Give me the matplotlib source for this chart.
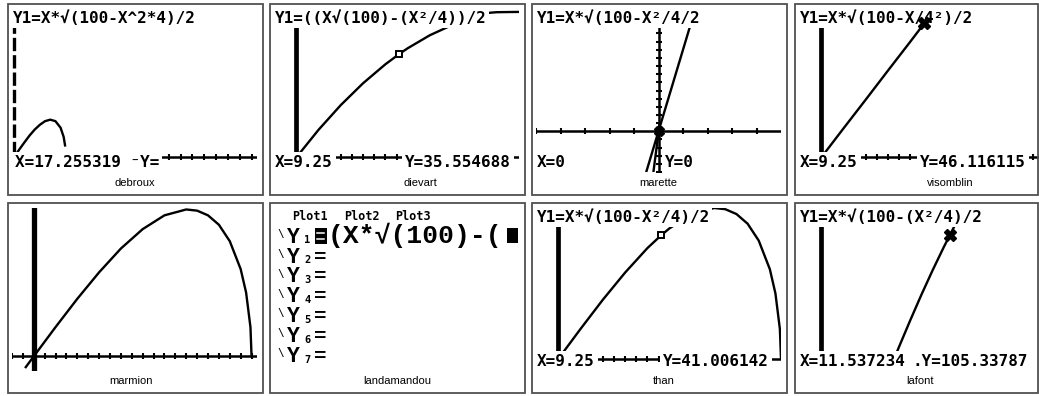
import numpy as np
import matplotlib.pyplot as plt
from matplotlib.patches import Rectangle
from matplotlib.transforms import Affine2D

# ---- values ----
names = ['debroux', 'dievart', 'marette', 'visomblin',
         'marmion', 'landamandou', 'than', 'lafont']

# debroux : Y1=X*sqrt(100-X^2*4)/2
debroux_eq = 'Y1=X*√(100-X^2*4)/2'
debroux_x = [0, 0.5, 1, 1.5, 2, 2.5, 3, 3.5, 4, 4.5, 4.8, 4.95]
debroux_y = [0, 2.5, 4.9, 7.2, 9.2, 10.8, 12.0, 12.5, 12.0, 9.8, 6.7, 3.5]
debroux_trace = ['X=17.255319 ⁻Y=']

# dievart : Y1=((X*sqrt(100)-(X^2/4))/2
dievart_eq = 'Y1=((X√(100)-(X²/4))/2'
dievart_x = [0, 2, 4, 6, 8, 9.25, 10, 12, 14, 16, 17, 18, 20]
dievart_y = [0, 9.5, 18, 25.5, 32, 35.55, 37.5, 42, 45.5, 48.5, 49.6, 49.9, 50]
dievart_cursor = (9.25, 35.554688)
dievart_trace = ['X=9.25', 'Y=35.554688']

# marette : steep line through the origin
marette_eq = 'Y1=X*√(100-X²/4/2'
marette_x = [-0.6, 0, 0.5, 1, 1.6]
marette_y = [-6, 0, 5, 10, 16]
marette_x2 = [-0.25, 0.05]
marette_y2 = [-6, 1]
marette_trace = ['X=0', 'Y=0']

# visomblin
visomblin_eq = 'Y1=X*√(100-X/4²)/2'
visomblin_x = [0, 2, 4, 6, 8, 9.25, 10.5]
visomblin_y = [0, 10.0, 19.9, 29.9, 39.8, 46.1, 52.3]
visomblin_cursor = (9.25, 46.116115)
visomblin_trace = ['X=9.25', 'Y=46.116115']

# marmion : full arch, no text on screen
marmion_x = [-0.8, 0, 2, 4, 6, 8, 10, 12, 14, 15, 16, 17, 18, 19, 19.5, 19.9, 20]
marmion_y = [-4.0, 0, 9.95, 19.6, 28.6, 36.7, 43.3, 48, 50.0, 49.6, 48, 44.8,
             39.2, 29.7, 21.7, 9.9, 0]

# landamandou : Y= editor
landamandou_plots = ['Plot1', 'Plot2', 'Plot3']
landamandou_rows = ['1', '2', '3', '4', '5', '6', '7']
landamandou_y1 = '(X*√(100)-('

# than
than_eq = 'Y1=X*√(100-X²/4)/2'
than_x = [0, 2, 4, 6, 8, 9.25, 10, 12, 14, 15, 16, 17, 18, 19, 19.5, 19.9, 20]
than_y = [0, 9.95, 19.6, 28.6, 36.7, 41.0, 43.3, 48, 50.0, 49.6, 48, 44.8,
          39.2, 29.7, 21.7, 9.9, 0]
than_cursor = (9.25, 41.006142)
than_trace = ['X=9.25', 'Y=41.006142']

# lafont
lafont_eq = 'Y1=X*√(100-(X²/4)/2'
lafont_x = [6.5, 7, 8, 9, 10, 11, 11.54, 12, 12.5]
lafont_y = [63.3, 67.8, 76.7, 85.3, 93.5, 101.3, 105.3, 108.7, 112.1]
lafont_cursor = (11.537234, 105.33787)
lafont_trace = ['X=11.537234', '.Y=105.33787']

# ---- layout ----
W, H = 1039, 396
SW, SH = 245, 163
TI = ['DejaVu Sans Mono', 'DejaVu Sans']
BIG = ['Liberation Mono', 'DejaVu Sans Mono', 'DejaVu Sans']
COLS = [8, 270, 532, 795]
ROWS = [4, 203]
PH = [191, 190]

fig = plt.figure(figsize=(W / 100, H / 100), dpi=100)
fig.patch.set_facecolor('white')


def panel(c, r, name, label_x):
    x0, y0 = COLS[c], ROWS[r]
    w = 255 if c < 3 else 243
    fig.add_artist(Rectangle((x0 / W, 1 - (y0 + PH[r]) / H), w / W, PH[r] / H,
                             transform=fig.transFigure, fill=False,
                             ec='#505050', lw=1.3))
    fig.text(label_x / W, 1 - (y0 + PH[r] - 12) / H, name, ha='center',
             va='center', fontsize=8, family='Liberation Sans')
    ax = fig.add_axes([(x0 + 4) / W, 1 - (y0 + 5 + SH) / H, SW / W, SH / H])
    ax.set_axis_off()
    return ax


def px(ax):
    # TI screen grid, 96 columns x 64 rows, row 0 on top
    return Affine2D().scale(1 / 96, -1 / 64).translate(0, 1) + ax.transAxes


def ti_text(ax, col, row, s, size=11.5, pad=0.12):
    ax.text(col, row, s, transform=px(ax), family=TI, weight='bold',
            fontsize=size, color='k', va='baseline', ha='left', zorder=5,
            bbox=dict(boxstyle='square,pad=%g' % pad, fc='white', ec='none'))


def ti_axes(ax, xlim, ylim, ybar=1.8, xscl=1.0, dashed=False, yscl=None):
    ax.set_xlim(*xlim)
    ax.set_ylim(*ylim)
    if ylim[0] < 0 < ylim[1]:
        ax.axhline(0, color='k', lw=1.8, zorder=1)
        xt = np.arange(np.ceil(xlim[0] / xscl) * xscl, xlim[1], xscl)
        ax.plot(xt, np.zeros_like(xt), ls='none', marker='|', ms=5,
                mew=1.5, color='k', zorder=1)
    if dashed:
        ax.axvline(0, color='k', lw=ybar, dashes=(4, 1.2), zorder=1)
    else:
        ax.axvline(0, color='k', lw=ybar, zorder=1)
    if yscl:
        yt = np.arange(np.ceil(ylim[0] / yscl) * yscl, ylim[1], yscl)
        ax.plot(np.zeros_like(yt), yt, ls='none', marker='_', ms=5,
                mew=1.5, color='k', zorder=1)


def curve(ax, x, y):
    ax.plot(x, y, color='k', lw=1.7, solid_capstyle='butt', zorder=2)


# debroux
ax = panel(0, 0, names[0], 135)
ti_axes(ax, (-0.2, 23.5), (-5, 49.5), ybar=2.4, dashed=True, xscl=1.15)
curve(ax, debroux_x, debroux_y)
ti_text(ax, 0.5, 5.4, debroux_eq)
ti_text(ax, 1, 62, debroux_trace[0], pad=0.2)

# dievart
ax = panel(1, 0, names[1], 420)
ti_axes(ax, (-2, 20), (-5, 51), ybar=3.4)
curve(ax, dievart_x, dievart_y)
ax.plot(*dievart_cursor, marker='s', ms=5, mfc='white', mec='k', mew=1.4, zorder=3)
ti_text(ax, 0.5, 5.4, dievart_eq)
ti_text(ax, 0.5, 62, dievart_trace[0], pad=0.2)
ti_text(ax, 51.4, 62, dievart_trace[1], pad=0.2)

# marette
ax = panel(2, 0, names[2], 658)
ti_axes(ax, (-5, 5), (-5, 15), ybar=1.8, xscl=1, yscl=1)
curve(ax, marette_x, marette_y)
curve(ax, marette_x2, marette_y2)
ax.plot(0, 0, marker='X', ms=7, color='k', zorder=3)
ti_text(ax, 0.5, 5.4, marette_eq)
ti_text(ax, 0.5, 62, marette_trace[0], pad=0.2)
ti_text(ax, 50.6, 62, marette_trace[1], pad=0.2)

# visomblin
ax = panel(3, 0, names[3], 950)
ti_axes(ax, (-2, 20), (-5, 51), ybar=3.4)
curve(ax, visomblin_x, visomblin_y)
ti_text(ax, 0.5, 5.4, visomblin_eq)
ax.plot(*visomblin_cursor, marker='X', ms=8, color='k', zorder=6)
ti_text(ax, 0.5, 62, visomblin_trace[0], pad=0.2)
ti_text(ax, 47.5, 62, visomblin_trace[1], pad=0.2)

# marmion
ax = panel(0, 1, names[4], 131)
ti_axes(ax, (-2, 20.5), (-5, 50.5), ybar=3.8)
curve(ax, marmion_x, marmion_y)

# landamandou
ax = panel(1, 1, names[5], 397)
for i, p in enumerate(landamandou_plots):
    ax.text(7 + 20.3 * i, 4.6, p, transform=px(ax), family=TI,
            weight='bold', fontsize=8.5, va='baseline')
for i, d in enumerate(landamandou_rows):
    base = 13.6 + 7.8 * i
    ax.text(1.4, base - 2.2, '\\', transform=px(ax), family=TI,
            fontsize=8, va='baseline')
    ax.text(5.0, base, 'Y', transform=px(ax), family=BIG, fontsize=15.5,
            weight='bold', va='baseline')
    ax.text(11.8, base + 0.3, d, transform=px(ax), family=TI,
            weight='bold', fontsize=7.5, va='baseline')
    ax.text(15.6, base, '=', transform=px(ax), family=BIG, fontsize=15,
            weight='bold', va='baseline', zorder=3)
    if i == 0:
        ax.text(21.0, base, landamandou_y1, transform=px(ax), family=BIG,
                fontsize=19, weight='bold', va='baseline')
        # the "=" of Y1 is highlighted (function selected)
        ax.add_patch(Rectangle((16.0, 7.9), 4.6, 6.1, transform=px(ax),
                               fc='k', ec='none', zorder=4))
        for yy in (10.0, 12.0):
            ax.plot([17.0, 19.6], [yy, yy], color='white', lw=1.1,
                    transform=px(ax), zorder=5)
        # blinking cursor block
        ax.add_patch(Rectangle((91.4, 7.8), 4.4, 6.0, transform=px(ax),
                               fc='k', ec='none', zorder=4))

# than
ax = panel(2, 1, names[6], 664)
ti_axes(ax, (-2, 20), (-4, 50), ybar=3.4)
curve(ax, than_x, than_y)
ax.plot(*than_cursor, marker='s', ms=5, mfc='white', mec='k', mew=1.4, zorder=3)
ti_text(ax, 0.5, 5.4, than_eq)
ti_text(ax, 0.5, 62, than_trace[0], pad=0.2)
ti_text(ax, 49.8, 62, than_trace[1], pad=0.2)

# lafont
ax = panel(3, 1, names[7], 920)
ti_axes(ax, (-2, 20), (59.5, 114.5), ybar=3.4)
curve(ax, lafont_x, lafont_y)
ax.plot(*lafont_cursor, marker='X', ms=8, color='k', zorder=3)
ti_text(ax, 0.5, 5.4, lafont_eq)
ti_text(ax, 0.5, 62, lafont_trace[0], pad=0.2)
ti_text(ax, 44.5, 62, lafont_trace[1], pad=0.2)

fig.savefig('out.png', dpi=100, facecolor='white')
